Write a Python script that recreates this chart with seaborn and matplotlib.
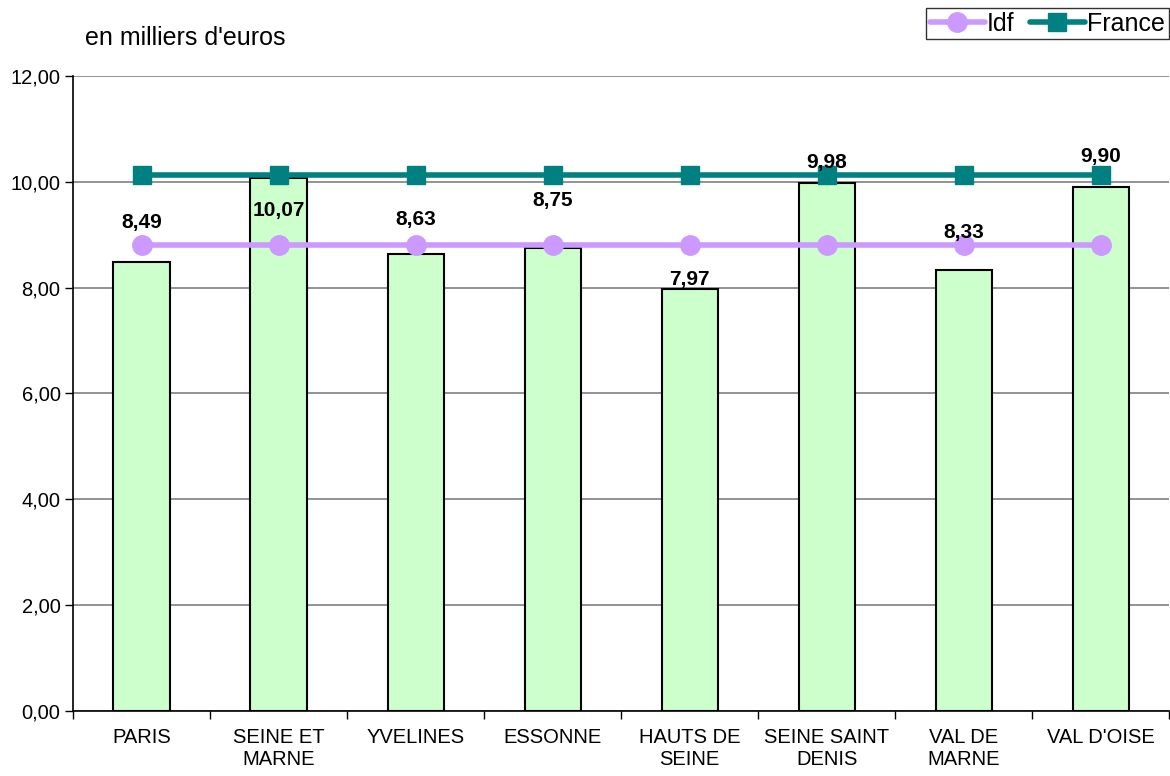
import matplotlib
matplotlib.use('Agg')
from matplotlib import pyplot as plt
from matplotlib.ticker import FuncFormatter, FixedLocator
import pandas as pd
import seaborn as sns

# data
departements = ['PARIS', 'SEINE ET\nMARNE', 'YVELINES', 'ESSONNE',
                'HAUTS DE\nSEINE', 'SEINE SAINT\nDENIS', 'VAL DE\nMARNE', "VAL D'OISE"]
valeurs = [8.49, 10.07, 8.63, 8.75, 7.97, 9.98, 8.33, 9.90]
idf = [8.81] * 8
france = [10.13] * 8
# vertical shift of each value label (points, relative to bar top)
label_shift = [28, -23, 25, 34, 7, 15, 27, 22]

df = pd.DataFrame({'dep': departements, 'val': valeurs})

sns.set_style('white')
plt.rcParams['font.family'] = ['Liberation Sans', 'DejaVu Sans']
plt.rcParams['text.color'] = 'black'
plt.rcParams['xtick.color'] = 'black'
plt.rcParams['ytick.color'] = 'black'

fig = plt.figure(figsize=(11.7, 7.76), dpi=100)
ax = fig.add_axes([0.0624, 0.0838, 0.937, 0.8183])

sns.barplot(data=df, x='dep', y='val', color='#CCFFCC', width=0.41,
            edgecolor='black', linewidth=1.5, saturation=1, ax=ax, zorder=2)

pos = list(range(len(departements)))
ax.plot(pos, idf, color='#CC99FF', lw=4, marker='o', ms=14, label='Idf', zorder=3)
ax.plot(pos, france, color='#008080', lw=4, marker='s', ms=13, label='France', zorder=3)

for i, v in enumerate(valeurs):
    ax.annotate(f'{v:.2f}'.replace('.', ','), (i, v), xytext=(0, label_shift[i]),
                textcoords='offset points', ha='center', va='center',
                fontsize=15, fontweight='bold', color='black', zorder=4)

ax.set_ylim(0, 12)
ax.set_xlim(-0.5, 7.5)
ax.set_yticks([0, 2, 4, 6, 8, 10, 12])
ax.yaxis.set_major_formatter(FuncFormatter(lambda y, p: f'{y:.2f}'.replace('.', ',')))
ax.yaxis.grid(True, color='#808080', lw=1.2)
ax.set_axisbelow(True)
ax.set_xlabel('')
ax.set_ylabel('')

for s in ['top', 'right']:
    ax.spines[s].set_visible(False)
for s in ['left', 'bottom']:
    ax.spines[s].set_color('black')
    ax.spines[s].set_linewidth(1.2)

ax.tick_params(axis='x', which='major', length=0, labelsize=14.5, pad=12, labelcolor='black')
ax.xaxis.set_minor_locator(FixedLocator([k + 0.5 for k in range(-1, 8)]))
ax.tick_params(axis='x', which='minor', length=6, width=1, color='black', bottom=True)
ax.tick_params(axis='y', length=6, width=1, color='black', labelsize=14.5, left=True,
               pad=3, labelcolor='black')

fig.text(0.073, 0.951, "en milliers d'euros", fontsize=18, va='center', color='black')

leg = fig.legend(loc='upper right', bbox_to_anchor=(0.999, 0.99), ncol=2,
                 fontsize=18, frameon=True, fancybox=False, edgecolor='black',
                 handlelength=2.2, handletextpad=0.1, columnspacing=0.6,
                 borderpad=0.15, borderaxespad=0, labelcolor='black')
leg.get_frame().set_linewidth(1)

fig.savefig('out.png', dpi=100)
